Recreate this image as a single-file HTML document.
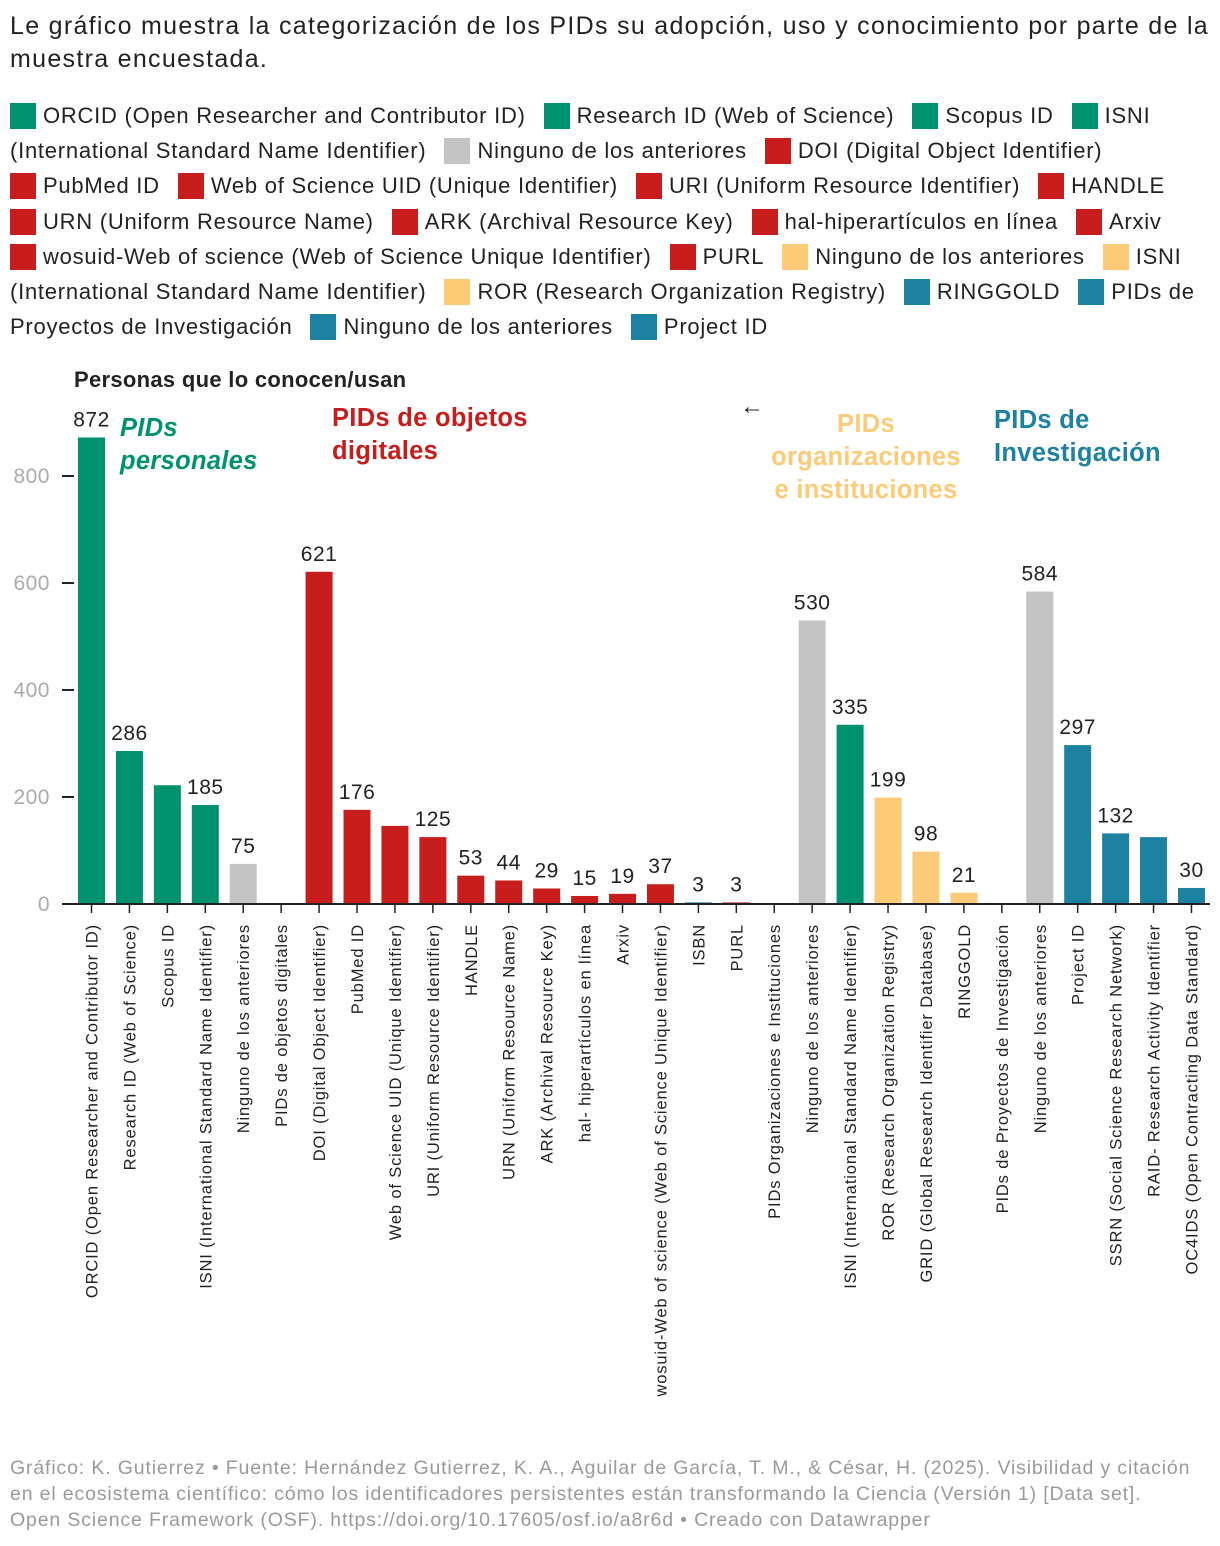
<!DOCTYPE html>
<html><head><meta charset="utf-8">
<style>
body{margin:0;background:#fff;width:1220px;height:1546px;overflow:hidden;font-family:"Liberation Sans",sans-serif;}
#title{position:absolute;left:10px;top:10px;width:1215px;font-size:25px;line-height:33px;color:#222;letter-spacing:1.3px;white-space:nowrap;}
#legend{position:absolute;left:10px;top:98px;font-size:22px;line-height:35.2px;color:#222;white-space:nowrap;letter-spacing:0.75px;}
.sw{display:inline-block;width:26px;height:26px;vertical-align:-6px;margin-right:7px;}
.it{margin-right:18px;}
#footer{position:absolute;left:10px;top:1455px;font-size:19.5px;line-height:26px;color:#9a9a9a;letter-spacing:0.85px;white-space:nowrap;}
svg{position:absolute;left:0;top:0;}
</style></head><body>
<div id="title">Le gráfico muestra la categorización de los PIDs su adopción, uso y conocimiento por parte de la<br>muestra encuestada.</div>
<div id="legend">
<span class="it"><span class="sw" style="background:#00926f"></span>ORCID (Open Researcher and Contributor ID)</span><span class="it"><span class="sw" style="background:#00926f"></span>Research ID (Web of Science)</span><span class="it"><span class="sw" style="background:#00926f"></span>Scopus ID</span><span><span class="sw" style="background:#00926f"></span>ISNI</span><br>
<span class="it">(International Standard Name Identifier)</span><span class="it"><span class="sw" style="background:#c4c4c4"></span>Ninguno de los anteriores</span><span><span class="sw" style="background:#c71e1d"></span>DOI (Digital Object Identifier)</span><br>
<span class="it"><span class="sw" style="background:#c71e1d"></span>PubMed ID</span><span class="it"><span class="sw" style="background:#c71e1d"></span>Web of Science UID (Unique Identifier)</span><span class="it"><span class="sw" style="background:#c71e1d"></span>URI (Uniform Resource Identifier)</span><span><span class="sw" style="background:#c71e1d"></span>HANDLE</span><br>
<span class="it"><span class="sw" style="background:#c71e1d"></span>URN (Uniform Resource Name)</span><span class="it"><span class="sw" style="background:#c71e1d"></span>ARK (Archival Resource Key)</span><span class="it"><span class="sw" style="background:#c71e1d"></span>hal-hiperartículos en línea</span><span><span class="sw" style="background:#c71e1d"></span>Arxiv</span><br>
<span class="it"><span class="sw" style="background:#c71e1d"></span>wosuid-Web of science (Web of Science Unique Identifier)</span><span class="it"><span class="sw" style="background:#c71e1d"></span>PURL</span><span class="it"><span class="sw" style="background:#fdca77"></span>Ninguno de los anteriores</span><span><span class="sw" style="background:#fdca77"></span>ISNI</span><br>
<span class="it">(International Standard Name Identifier)</span><span class="it"><span class="sw" style="background:#fdca77"></span>ROR (Research Organization Registry)</span><span class="it"><span class="sw" style="background:#1d81a2"></span>RINGGOLD</span><span><span class="sw" style="background:#1d81a2"></span>PIDs de</span><br>
<span class="it">Proyectos de Investigación</span><span class="it"><span class="sw" style="background:#1d81a2"></span>Ninguno de los anteriores</span><span><span class="sw" style="background:#1d81a2"></span>Project ID</span>
</div>
<svg id="chart" width="1220" height="1546"></svg>
<div id="footer">Gráfico: K. Gutierrez • Fuente: Hernández Gutierrez, K. A., Aguilar de García, T. M., &amp; César, H. (2025). Visibilidad y citación<br>en el ecosistema científico: cómo los identificadores persistentes están transformando la Ciencia (Versión 1) [Data set].<br>Open Science Framework (OSF). https://doi.org/10.17605/osf.io/a8r6d • Creado con Datawrapper</div>
<script>
const categories=["ORCID (Open Researcher and Contributor ID)","Research ID (Web of Science)","Scopus ID","ISNI (International Standard Name Identifier)","Ninguno de los anteriores","PIDs de objetos digitales","DOI (Digital Object Identifier)","PubMed ID","Web of Science UID (Unique Identifier)","URI (Uniform Resource Identifier)","HANDLE","URN (Uniform Resource Name)","ARK (Archival Resource Key)","hal- hiperartículos en línea","Arxiv","wosuid-Web of science (Web of Science Unique Identifier)","ISBN","PURL","PIDs Organizaciones e Instituciones","Ninguno de los anteriores","ISNI (International Standard Name Identifier)","ROR (Research Organization Registry)","GRID (Global Research Identifier Database)","RINGGOLD","PIDs de Proyectos de Investigación","Ninguno de los anteriores","Project ID","SSRN (Social Science Research Network)","RAID- Research Activity Identifier","OC4IDS (Open Contracting Data Standard)"];
const values=[872,286,222,185,75,0,621,176,146,125,53,44,29,15,19,37,3,3,0,530,335,199,98,21,0,584,297,132,125,30];
const showLabel=[1,1,0,1,1,0,1,1,0,1,1,1,1,1,1,1,1,1,0,1,1,1,1,1,0,1,1,1,0,1];
const colorKeys=["g","g","g","g","n","g","r","r","r","r","r","r","r","r","r","r","b","r","y","n","g","y","y","y","b","n","b","b","b","b"];
const yTicks=[0,200,400,600,800];
const palette={g:"#00926f",r:"#c71e1d",y:"#fdca77",b:"#1d81a2",n:"#c4c4c4"};
const svg=document.getElementById('chart');
const NS="http://www.w3.org/2000/svg";
const y0=904, pxPer=428/800, x0=91.5, step=37.93, bw=27;
const yS=v=>y0-v*pxPer, xS=i=>x0+i*step;
function mk(t,a,txt){const e=document.createElementNS(NS,t);for(const k in a)e.setAttribute(k,a[k]);if(txt!==undefined)e.textContent=txt;svg.appendChild(e);return e;}
yTicks.forEach(v=>{
 const l=mk('line',{x1:62,x2:74,y1:yS(v),y2:yS(v),stroke:'#222','stroke-width':2});
 
 
 const t=mk('text',{x:50,y:yS(v)+7,'text-anchor':'end','font-size':21,fill:'#aaa','letter-spacing':0.5},v);
 
 
});
values.forEach((v,i)=>{
 const x=xS(i);
 const r=mk('rect',{x:x-bw/2,y:yS(v),width:bw,height:v*pxPer,fill:palette[colorKeys[i]]});
 
 
 if(showLabel[i]){const t=mk('text',{x:x,y:yS(v)-11,'text-anchor':'middle','font-size':21,fill:'#222','letter-spacing':0.5},v);
  
  }
 const tk=mk('line',{x1:x,x2:x,y1:y0,y2:y0+9,stroke:'#222','stroke-width':1.5});
 
 
 const c=mk('text',{x:0,y:0,transform:`translate(${x+6},${y0+20}) rotate(-90)`,'text-anchor':'end','font-size':16.5,fill:'#222','letter-spacing':0.85},categories[i]);
 
 
});
const base=mk('line',{x1:62,x2:1210,y1:y0,y2:y0,stroke:'#222','stroke-width':2});


const yt=mk('text',{x:74,y:387,'font-size':22,'font-weight':'bold',fill:'#222','letter-spacing':0.3},'Personas que lo conocen/usan');


function ann(lines,x,y,col,anchor,italic,name){lines.forEach((s,k)=>{const t=mk('text',{x:x,y:y+k*33,'font-size':25.5,'font-weight':'bold','font-style':italic?'italic':'normal',fill:col,'text-anchor':anchor,'letter-spacing':0.3},s);
 
 });}
ann(["PIDs","personales"],120,436,'#00926f','start',true,'annotation-personales');
ann(["PIDs de objetos","digitales"],332,426,'#c71e1d','start',false,'annotation-objetos-digitales');
ann(["PIDs","organizaciones","e instituciones"],866,432,'#fdca77','middle',false,'annotation-organizaciones');
ann(["PIDs de","Investigación"],994,428,'#1d81a2','start',false,'annotation-investigacion');
const ar=mk('text',{x:752,y:414,'font-size':24,fill:'#222','text-anchor':'middle'},'←');


</script>
</body></html>
